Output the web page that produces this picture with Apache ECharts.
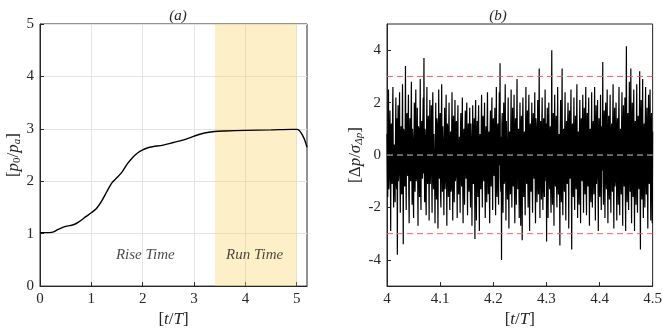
<!DOCTYPE html>
<html>
<head>
<meta charset="utf-8">
<script src="https://cdn.jsdelivr.net/npm/echarts@6/dist/echarts.min.js"></script>
<style>
  html, body { margin: 0; padding: 0; background: #fff; }
  #chart { width: 665px; height: 333px; }
</style>
</head>
<body>
<div id="chart"></div>
<script>
// (a) pressure ratio vs time
const riseT = [0, 0.1, 0.25, 0.35, 0.5, 0.65, 0.75, 0.9, 1.0, 1.1, 1.2, 1.3, 1.4, 1.5, 1.6, 1.7, 1.8, 1.9, 2.0, 2.1, 2.2, 2.4, 2.6, 2.8, 3.0, 3.2, 3.4, 3.6, 4.0, 4.5, 4.9, 5.0, 5.05, 5.1, 5.15, 5.2];
const riseP = [1.02, 1.02, 1.03, 1.08, 1.14, 1.17, 1.22, 1.33, 1.40, 1.48, 1.62, 1.80, 1.97, 2.07, 2.18, 2.33, 2.45, 2.54, 2.60, 2.64, 2.66, 2.69, 2.74, 2.79, 2.86, 2.92, 2.95, 2.96, 2.97, 2.98, 2.99, 2.99, 2.97, 2.90, 2.80, 2.65];
const runStart = 3.41, runEnd = 5.0;
const xTicksA = [0, 1, 2, 3, 4, 5];

// (b) normalised pressure fluctuation, t = 4 .. 4.5
// even samples (carry the spikes)
const tStart = 4.0, tEnd = 4.5;
const seg1 = [0.8,-1.6,2.5,-0.9,1.7,-2.9,1.2,-1.1,2.6,-2.0,0.4,-1.8,2.2,-1.3,-3.8,1.9,-0.7,2.4,-2.2,1.1,-1.5,2.7,-3.4,0.9,-1.2,3.4,-2.1,1.6,-0.8,2.3];
const seg2 = [-2.6,1.4,-1.0,2.8,-1.9,0.6,-2.4,2.0,-1.4,2.5,-0.8,1.8,-2.7,1.0,-1.6,2.9,-2.1,1.3,-0.9,2.2,3.7,-1.8,0.7,-2.3,2.6,-1.1,1.5,-2.5,2.1,-0.6];
const seg3 = [1.9,-2.2,2.4,-1.3,0.8,-2.6,2.0,-1.7,1.2,-2.8,2.5,-0.9,1.6,-2.0,2.7,-1.4,0.5,-2.3,1.8,-1.0,2.3,-2.7,1.1,-1.6,2.0,-2.1,0.9,-1.3,2.4,-2.5];
const seg4 = [1.5,-1.8,2.1,-0.8,1.3,-2.4,1.9,-1.5,0.7,-2.2,1.6,-1.2,2.2,-2.6,1.0,-1.9,1.7,-0.9,2.0,-2.3,1.2,-1.4,1.8,-2.0,0.6,-2.7,1.9,-1.1,1.4,-3.2];
const seg5 = [2.1,-2.5,1.3,-1.6,1.9,-2.9,0.8,-1.3,2.3,-2.0,1.5,-1.0,2.0,-2.4,1.1,-1.8,2.4,-1.5,0.9,-2.6,1.7,-1.2,2.2,-2.1,1.4,-0.8,1.8,-2.3,2.6,-1.6];
const seg6 = [1.2,-1.9,2.4,3.5,-1.4,-4.0,1.6,-2.2,2.0,-1.0,2.7,-2.5,1.3,-1.7,2.2,-2.8,0.9,-1.5,2.5,-2.0,1.8,-1.2,2.3,-2.6,1.4,-1.9,2.9,-1.3,1.0,-2.4];
const seg7 = [2.0,-2.7,1.5,-3.25,2.2,-1.6,0.9,-2.3,2.6,-1.1,1.7,-2.0,2.3,-2.9,1.2,-1.4,2.0,-2.2,1.6,-0.9,2.4,-2.6,1.1,-1.8,2.1,-1.5,3.3,-2.4,1.3,-1.7];
const seg8 = [2.2,-2.1,1.4,-1.6,2.5,-1.0,-3.3,1.8,-2.4,2.0,-1.3,1.1,-2.2,4.0,-1.9,1.6,-2.7,2.3,-1.2,1.5,-2.0,2.6,-1.5,0.8,-3.45,2.1,-1.8,3.3,-2.3,1.0];
const seg9 = [-1.4,2.4,-2.5,1.3,-1.1,2.0,-2.8,1.7,-0.9,2.5,-3.6,1.2,-1.6,2.2,-2.1,1.5,-1.3,2.7,-2.4,0.9,-1.9,2.1,-2.6,1.4,-1.0,2.3,-2.2,1.8,-1.5,2.6];
const seg10 = [-2.3,1.6,-1.2,2.2,-2.7,1.0,-1.8,2.4,-2.0,1.3,-1.5,2.6,-2.5,1.9,-0.8,2.1,-2.9,1.4,-1.6,2.3,-2.1,1.1,3.55,-1.9,1.7,-2.4,2.0,-1.3,2.5,-2.6];
const seg11 = [1.5,-1.7,2.3,-2.2,1.2,-1.4,2.7,-2.8,1.8,-1.0,2.0,-2.5,1.4,-1.9,2.6,-2.3,1.0,-1.5,2.4,-2.7,1.9,-1.2,2.2,-2.9,4.15,-1.8,1.6,-2.1,2.8,-1.4];
const seg12 = [3.3,-2.6,2.0,-1.6,2.5,-2.9,1.3,-1.9,2.7,-2.2,1.5,-1.3,3.2,-3.6,2.1,-1.7,2.9,-2.4,1.2,-2.0,2.6,-1.5,1.8,-2.8,2.3,-1.1,2.5,-2.5,1.6,-2.6];
// odd samples (in between, smaller)
const fill1 = [-0.4,0.9,-1.3,0.6,-0.2,1.1,-0.8,1.5,-0.5,0.3,-1.2,0.7,-0.9,1.4,0.2,-1.0,1.2,-0.6,0.5,-1.4,0.8,-0.3,1.0,-1.1,0.4,-0.7,1.3,-0.2,0.9,-1.5];
const fill2 = [0.6,-0.8,1.2,-0.3,1.0,-1.3,0.4,-0.6,1.5,-1.0,0.2,-0.9,1.1,-0.5,0.7,-1.2,0.9,-0.4,1.3,-0.7,-0.3,1.0,-1.4,0.5,-0.8,1.2,-0.2,0.8,-1.1,0.6];
const fill3 = [-0.9,1.3,-0.5,0.8,-1.1,0.3,-0.7,1.4,-1.2,0.6,-0.4,1.0,-1.5,0.9,-0.3,1.1,-0.8,0.5,-1.3,0.7,-0.6,1.2,-0.2,0.9,-1.0,0.4,-1.4,0.8,-0.5,1.1];
const fill4 = [-0.7,0.5,-1.0,1.2,-0.4,0.8,-1.3,0.3,-0.9,1.1,-0.6,0.7,-1.2,0.4,-0.8,1.0,-0.3,1.3,-0.5,0.6,-1.1,0.9,-0.7,1.2,-0.4,0.5,-1.0,0.8,-0.2,1.4];
const fill5 = [-1.0,0.7,-0.5,1.1,-0.8,0.4,-1.2,0.9,-0.3,1.3,-0.6,0.8,-1.1,0.5,-0.9,1.2,-0.4,0.6,-1.3,0.9,-0.7,1.0,-0.2,1.1,-0.5,0.8,-1.0,0.4,-1.2,0.7];
const fill6 = [-0.6,1.0,-0.4,-0.9,0.7,1.2,-0.8,0.5,-1.1,0.9,-0.3,1.3,-0.7,0.6,-1.2,0.8,-0.5,1.1,-0.9,0.4,-1.0,0.7,-1.3,0.9,-0.6,1.2,-0.4,0.8,-1.1,0.5];
const fill7 = [-0.8,1.1,-0.6,1.3,-0.9,0.5,-1.2,0.7,-0.4,1.0,-0.7,1.2,-0.5,0.9,-1.3,0.6,-0.8,1.1,-0.3,0.8,-1.0,1.4,-0.6,0.5,-1.1,0.9,-0.7,1.0,-0.4,1.2];
const fill8 = [-0.9,0.6,-1.1,0.8,-0.5,1.2,0.9,-0.7,1.0,-0.4,0.6,-1.3,0.8,-1.0,0.5,-0.8,1.1,-0.6,0.9,-1.2,0.7,-0.9,0.4,-1.1,1.0,-0.6,0.8,-1.2,0.5,-0.7];
const fill9 = [0.9,-1.0,0.6,-0.8,1.2,-0.5,1.1,-0.7,1.3,-1.1,1.0,-0.4,0.8,-1.2,0.6,-0.9,1.1,-0.5,0.7,-1.3,0.9,-0.6,1.0,-0.8,1.2,-0.4,0.7,-1.0,0.9,-1.1];
const fill10 = [0.7,-0.9,1.1,-0.6,0.8,-1.2,0.5,-1.0,0.9,-0.7,1.2,-0.4,0.6,-1.1,1.0,-0.8,0.7,-1.3,0.5,-0.9,1.1,-0.6,-1.0,0.8,-0.5,1.2,-0.7,0.9,-1.1,0.6];
const fill11 = [-0.8,0.9,-1.1,0.6,-0.5,1.3,-0.9,0.7,-1.2,0.8,-0.6,1.0,-0.7,1.2,-1.0,0.5,-0.8,1.1,-0.9,0.6,-0.4,1.0,-1.2,1.3,-0.6,0.9,-1.1,0.7,-0.5,1.0];
const fill12 = [-1.1,0.8,-0.6,1.2,-0.9,1.0,-0.7,1.1,-0.5,0.9,-1.0,0.6,-1.2,1.3,-0.8,0.9,-1.1,0.7,-0.6,1.2,-0.9,0.8,-1.3,0.6,-0.7,1.0,-0.5,1.1,-0.8,0.9];
const upperLimit = 3, lowerLimit = -3, meanLevel = 0;
const yTicksB = [-4, -2, 0, 2, 4];
const xTicksB = [4, 4.1, 4.2, 4.3, 4.4, 4.5];

const evenS = [].concat(seg1, seg2, seg3, seg4, seg5, seg6, seg7, seg8, seg9, seg10, seg11, seg12);
const oddS = [].concat(fill1, fill2, fill3, fill4, fill5, fill6, fill7, fill8, fill9, fill10, fill11, fill12);
const fluct = [];
evenS.forEach((v, i) => { fluct.push(v); fluct.push(oddS[i]); });
const dt = (tEnd - tStart) / (fluct.length - 1);
const fluctData = fluct.map((v, i) => [tStart + i * dt, v]);
const riseData = riseT.map((t, i) => [t, riseP[i]]);

const FONT = 'Liberation Serif';
const axisCol = '#262626';
const labelStyle = { color: axisCol, fontFamily: FONT, fontSize: 15 };
const nameRich = {
  n: { fontFamily: FONT, fontSize: 17, color: axisCol },
  i: { fontFamily: FONT, fontSize: 17, fontStyle: 'italic', color: axisCol },
  s: { fontFamily: FONT, fontSize: 11, fontStyle: 'italic', color: axisCol, padding: [8, 0, 0, 0] },
  s0: { fontFamily: FONT, fontSize: 11, color: axisCol, padding: [8, 0, 0, 0] }
};

function hLine(y, color) {
  return {
    type: 'line', xAxisIndex: 1, yAxisIndex: 1, silent: true, showSymbol: false,
    data: [[tStart, y], [tEnd, y]],
    lineStyle: { color: color, width: 1, type: [6, 4] }, z: 5
  };
}

const chart = echarts.init(document.getElementById('chart'), null, { renderer: 'canvas' });

const option = {
  animation: false,
  backgroundColor: '#fff',
  title: [
    { text: '(a)', left: 173, top: 4, textAlign: 'center',
      textStyle: { fontFamily: FONT, fontSize: 15, fontStyle: 'italic', fontWeight: 'normal', color: axisCol } },
    { text: '(b)', left: 493, top: 4, textAlign: 'center',
      textStyle: { fontFamily: FONT, fontSize: 15, fontStyle: 'italic', fontWeight: 'normal', color: axisCol } }
  ],
  grid: [
    { left: 40, right: 358, top: 24, bottom: 44, show: true, borderColor: axisCol, borderWidth: 1, backgroundColor: 'transparent' },
    { left: 387, right: 12, top: 24, bottom: 44, show: true, borderColor: axisCol, borderWidth: 1, backgroundColor: 'transparent' }
  ],
  xAxis: [
    {
      gridIndex: 0, type: 'value', min: 0, max: 5.2,
      name: '{n|[}{i|t}{n|/}{i|T}{n|]}', nameLocation: 'middle', nameGap: 17,
      nameTextStyle: { rich: nameRich },
      axisLine: { show: true, onZero: false, lineStyle: { color: axisCol } },
      axisTick: { show: true, inside: true, length: 4, lineStyle: { color: axisCol }, customValues: xTicksA },
      axisLabel: Object.assign({ margin: 5, customValues: xTicksA }, labelStyle),
      splitLine: { show: true, lineStyle: { color: '#e3e3e3' } }
    },
    {
      gridIndex: 1, type: 'value', min: 4, max: 4.5,
      name: '{n|[}{i|t}{n|/}{i|T}{n|]}', nameLocation: 'middle', nameGap: 17,
      nameTextStyle: { rich: nameRich },
      axisLine: { show: true, onZero: false, lineStyle: { color: axisCol } },
      axisTick: { show: true, inside: true, length: 4, lineStyle: { color: axisCol }, customValues: xTicksB },
      axisLabel: Object.assign({ margin: 5, customValues: xTicksB, formatter: v => String(+v.toFixed(1)) }, labelStyle),
      splitLine: { show: false }
    }
  ],
  yAxis: [
    {
      gridIndex: 0, type: 'value', min: 0, max: 5, interval: 1,
      name: '{n|[}{i|p}{s0|0}{n|/}{i|p}{s|a}{n|]}', nameLocation: 'middle', nameGap: 16,
      nameTextStyle: { rich: nameRich },
      axisLine: { show: true, onZero: false, lineStyle: { color: axisCol } },
      axisTick: { show: true, inside: true, length: 4, lineStyle: { color: axisCol } },
      axisLabel: Object.assign({ margin: 6 }, labelStyle),
      splitLine: { show: true, lineStyle: { color: '#e3e3e3' } }
    },
    {
      gridIndex: 1, type: 'value', min: -5, max: 5,
      name: '{n|[Δ}{i|p}{n|/}{i|σ}{s|Δp}{n|]}', nameLocation: 'middle', nameGap: 22,
      nameTextStyle: { rich: nameRich },
      axisLine: { show: true, onZero: false, lineStyle: { color: axisCol } },
      axisTick: { show: true, inside: true, length: 4, lineStyle: { color: axisCol }, customValues: yTicksB },
      axisLabel: Object.assign({ margin: 6, customValues: yTicksB }, labelStyle),
      splitLine: { show: false }
    }
  ],
  series: [
    {
      type: 'line', xAxisIndex: 0, yAxisIndex: 0, data: riseData,
      smooth: 0.3, showSymbol: false, silent: true,
      lineStyle: { color: '#000', width: 1.4 },
      markArea: {
        silent: true,
        itemStyle: { color: 'rgba(250,214,110,0.38)' },
        data: [[{ xAxis: runStart }, { xAxis: runEnd }]]
      },
      z: 3
    },
    {
      type: 'scatter', xAxisIndex: 0, yAxisIndex: 0, symbolSize: 0, silent: true,
      data: [
        { value: [2.05, 0.6], name: 'Rise Time' },
        { value: [4.18, 0.6], name: 'Run Time' }
      ],
      label: {
        show: true, position: 'inside', formatter: p => p.name,
        fontFamily: FONT, fontStyle: 'italic', fontSize: 15, color: '#1a1a1a'
      }
    },
    {
      type: 'line', xAxisIndex: 1, yAxisIndex: 1, data: fluctData,
      showSymbol: false, silent: true, sampling: null,
      lineStyle: { color: '#000', width: 1.2 }
    },
    hLine(upperLimit, '#ff5c5c'),
    hLine(lowerLimit, '#ff5c5c'),
    hLine(meanLevel, '#c8c8c8')
  ]
};

chart.setOption(option);
</script>
</body>
</html>
